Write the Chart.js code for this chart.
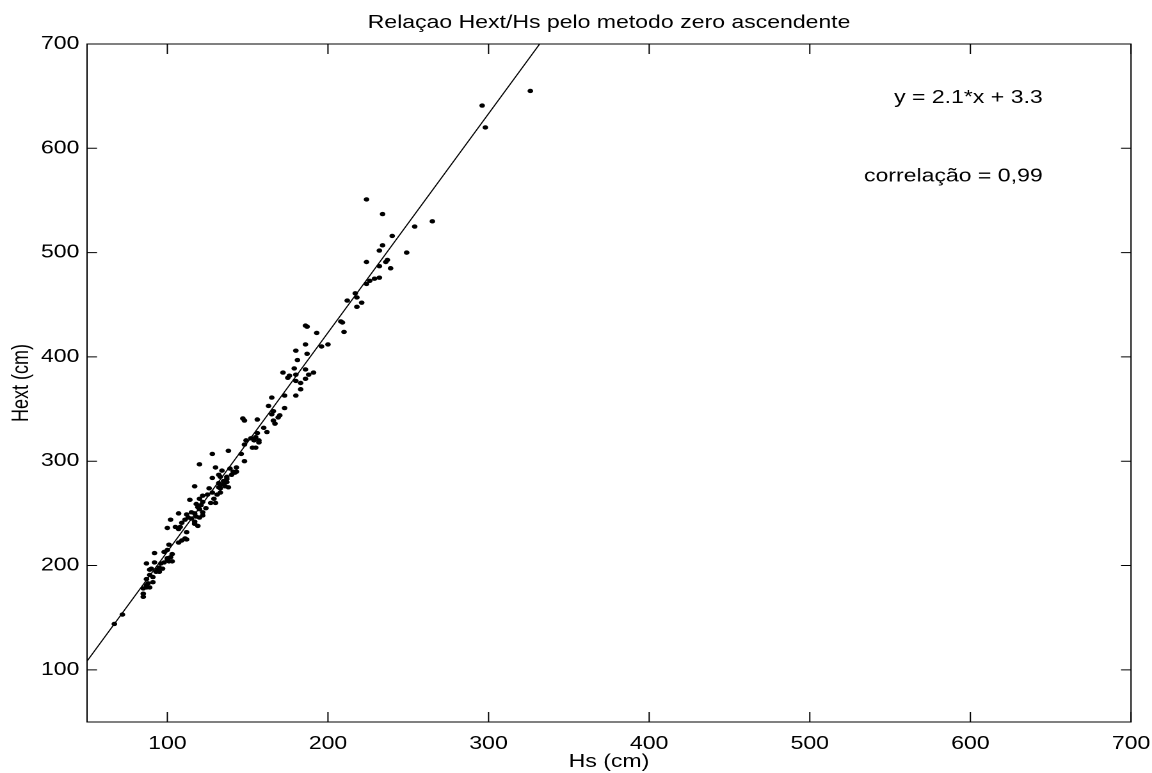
<!DOCTYPE html>
<html><head><meta charset="utf-8">
<script src="https://cdn.jsdelivr.net/npm/chart.js@4"></script>
<style>
html,body{margin:0;padding:0;background:#fff;overflow:hidden;}
#wrap{width:900px;height:773px;transform:scaleX(1.28);transform-origin:0 0;}
canvas{display:block;}
</style></head><body>
<div id="wrap"><canvas id="c" width="900" height="773" style="width:900px;height:773px"></canvas></div>
<script>
// ---- data ----
const hsValues = [326,296,298,224,234,265,254,240,234,232,249,237,236,224,232,239,232,229,226,224,
217,218,212,221,218,208,209,210,186,187,193,200,196,186,180,187,181,179,186,172,
180,188,191,176,175,186,180,183,183,180,173,165,163,173,166,165,170,169,167,166,
147,148,156,160,162,156,152,154,157,155,149,157,148,155,153,138,128,146,148,120,
130,143,139,134,141,140,142,132,133,128,137,137,135,132,133,132,136,138,117,143,
137,135,133,126,125,122,128,131,133,129,114,120,122,121,127,130,118,119,120,124,
107,115,117,112,122,122,113,111,115,117,118,120,102,109,108,117,119,100,105,107,
112,111,112,109,107,101,100,92,98,103,102,100,101,100,103,92,98,96,87,95,
97,94,89,90,93,95,91,89,87,91,88,87,89,85,87,85,85,72,67];
const hextValues = [655,641,620,551,537,530,525,516,507,502,500,493,491,491,487,485,476,475,473,470,
461,457,454,452,448,434,433,424,430,429,423,412,410,412,406,403,397,389,388,385,
383,383,385,382,380,379,377,375,369,363,363,361,353,351,348,345,344,342,336,339,
341,339,340,332,328,327,322,320,320,323,320,318,316,313,313,310,307,307,300,297,
294,294,293,291,290,287,289,287,285,284,283,280,281,279,277,275,276,275,276,290,
285,278,274,274,268,267,270,268,270,264,263,264,261,258,260,260,259,256,254,255,
250,251,250,249,251,248,246,244,245,242,247,246,244,241,237,240,238,236,237,235,
232,226,225,224,222,220,215,212,213,211,208,207,204,206,204,203,203,202,202,198,
197,196,196,197,194,194,189,191,187,184,183,181,179,178,179,173,170,153,144];
// fitted line y = 2.1*x + 3.3, endpoints as read (left axis to top of plot)
const fitX = [50, 331.8];
const fitY = [108.3, 700];
const xTickValues = [100,200,300,400,500,600,700];
const xTickLabels = ['100','200','300','400','500','600','700'];
const yTickValues = [100,200,300,400,500,600,700];
const yTickLabels = ['100','200','300','400','500','600','700'];
const titleText = 'Relaçao Hext/Hs pelo metodo zero ascendente';
const xTitle = 'Hs (cm)';
const yTitle = 'Hext (cm)';
const eqText = 'y = 2.1*x + 3.3';
const corrText = 'correlação = 0,99';
const annX = 645, eqY = 648, corrY = 573;

// ---- chart ----
const SX = 1.28;
const FONT = 'Liberation Sans, Arial, Helvetica, sans-serif';
const font18 = {family: FONT, size: 18};

const scatterData = hsValues.map((v, i) => ({x: v, y: hextValues[i]}));
const fitData = fitX.map((v, i) => ({x: v, y: fitY[i]}));

const framePlugin = {
  id: 'frame',
  afterDraw(chart) {
    const {ctx, chartArea: {left, right, top, bottom}, scales: {x, y}} = chart;
    ctx.save();
    ctx.strokeStyle = '#000';
    ctx.lineWidth = 1;
    ctx.strokeRect(left, top, right - left, bottom - top);
    ctx.beginPath();
    const tx = 10, ty = 10 / SX;
    xTickValues.forEach(v => {
      const p = x.getPixelForValue(v);
      ctx.moveTo(p, bottom); ctx.lineTo(p, bottom - tx);
      ctx.moveTo(p, top); ctx.lineTo(p, top + tx);
    });
    yTickValues.forEach(v => {
      const p = y.getPixelForValue(v);
      ctx.moveTo(left, p); ctx.lineTo(left + ty, p);
      ctx.moveTo(right, p); ctx.lineTo(right - ty, p);
    });
    ctx.stroke();
    ctx.fillStyle = '#000';
    ctx.font = '18px ' + FONT;
    ctx.textBaseline = 'middle';
    ctx.textAlign = 'center';
    ctx.fillText(titleText, (left + right) / 2, 23);
    ctx.textAlign = 'right';
    ctx.fillText(eqText, x.getPixelForValue(annX), y.getPixelForValue(eqY));
    ctx.fillText(corrText, x.getPixelForValue(annX), y.getPixelForValue(corrY));
    ctx.restore();
  }
};

new Chart(document.getElementById('c'), {
  type: 'scatter',
  data: {
    datasets: [
      {type: 'scatter', data: scatterData, backgroundColor: '#000', borderWidth: 0,
       pointRadius: 2.2, pointHoverRadius: 2.2},
      {type: 'line', data: fitData, borderColor: '#000', borderWidth: 1,
       pointRadius: 0, fill: false, tension: 0}
    ]
  },
  options: {
    responsive: false,
    animation: false,
    devicePixelRatio: 2,
    layout: {padding: {left: 0, right: 16.4, top: 44, bottom: 0}},
    plugins: {
      legend: {display: false},
      tooltip: {enabled: false},
      title: {display: false}
    },
    scales: {
      x: {
        type: 'linear', position: 'bottom', min: 50, max: 700,
        grid: {display: false, drawTicks: false},
        border: {display: false},
        afterBuildTicks: s => { s.ticks = xTickValues.map(v => ({value: v})); },
        afterFit: s => { s.height = 51; s.paddingLeft = 0; s.paddingRight = 0; },
        ticks: {color: '#000', font: font18, padding: 11, maxRotation: 0, autoSkip: false,
                callback: v => { const i = xTickValues.indexOf(v); return i >= 0 ? xTickLabels[i] : ''; }},
        title: {display: true, text: xTitle, color: '#000', font: font18, padding: {top: 0, bottom: 0}}
      },
      y: {
        type: 'linear', position: 'left', min: 50, max: 700,
        grid: {display: false, drawTicks: false},
        border: {display: false},
        afterBuildTicks: s => { s.ticks = yTickValues.map(v => ({value: v})); },
        afterFit: s => { s.width = 68; s.paddingTop = 0; s.paddingBottom = 0; },
        ticks: {color: '#000', font: font18, padding: 6, autoSkip: false,
                callback: v => { const i = yTickValues.indexOf(v); return i >= 0 ? yTickLabels[i] : ''; }},
        title: {display: true, text: yTitle, color: '#000', font: font18, padding: {top: 6, bottom: 0}}
      }
    }
  },
  plugins: [framePlugin]
});
</script>
</body></html>
